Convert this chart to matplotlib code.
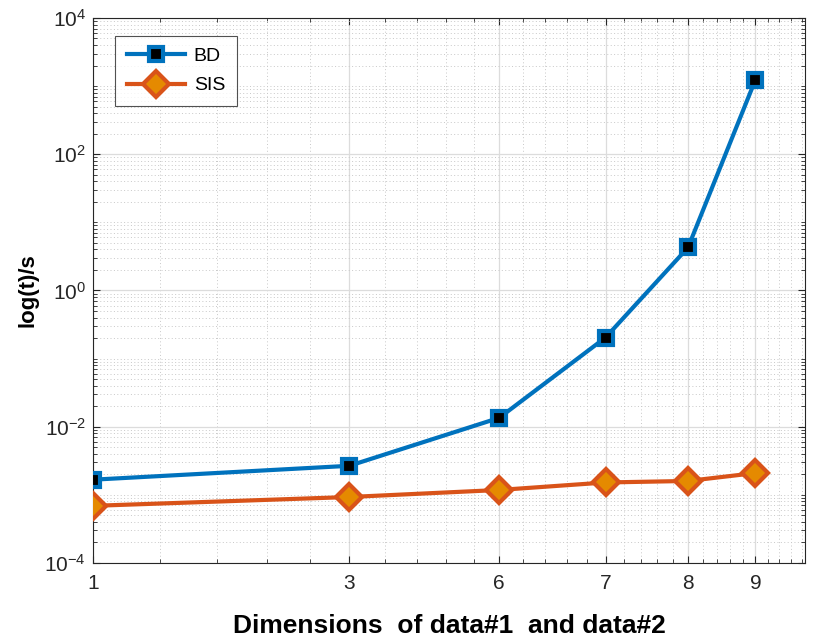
import matplotlib
matplotlib.use("Agg")
import matplotlib.pyplot as plt
from matplotlib.ticker import FixedLocator, NullFormatter, LogLocator
import numpy as np

plt.rcParams['font.family'] = ['Liberation Sans', 'DejaVu Sans']
plt.rcParams['mathtext.fontset'] = 'custom'
plt.rcParams['mathtext.rm'] = 'Liberation Sans'
plt.rcParams['mathtext.it'] = 'Liberation Sans'
plt.rcParams['mathtext.bf'] = 'Liberation Sans:bold'

x_pos = [5, 10, 15, 20, 25, 30]
x_labels = ['1', '3', '6', '7', '8', '9']
bd = [1.67e-3, 2.67e-3, 1.35e-2, 0.204, 4.28, 1242]
sis = [6.9e-4, 9.3e-4, 1.18e-3, 1.52e-3, 1.60e-3, 2.09e-3]

fig = plt.figure(figsize=(8.16, 6.41), dpi=100)
ax = fig.add_axes([0.114, 0.1217, 0.8725, 0.8503])

blue = '#0072BD'
orange = '#D95319'
ax.plot(x_pos, bd, '-s', color=blue, lw=3, ms=10, mec=blue, mfc='black', mew=3, label='BD', zorder=3)
ax.plot(x_pos, sis, '-D', color=orange, lw=3, ms=13, mec=orange, mfc='#E58A00', mew=3, label='SIS', zorder=3)

ax.set_xscale('log')
ax.set_yscale('log')
ax.set_xlim(5, 34.3)
ax.set_ylim(1e-4, 1e4)

ax.xaxis.set_major_locator(FixedLocator(x_pos))
ax.set_xticklabels(x_labels)
ax.xaxis.set_minor_locator(FixedLocator([v for v in range(5, 35) if v not in x_pos]))
ax.xaxis.set_minor_formatter(NullFormatter())

ax.yaxis.set_major_locator(FixedLocator([1e-4, 1e-2, 1e0, 1e2, 1e4]))
ax.set_yticklabels([r'$\mathregular{10^{-4}}$', r'$\mathregular{10^{-2}}$', r'$\mathregular{10^{0}}$',
                    r'$\mathregular{10^{2}}$', r'$\mathregular{10^{4}}$'])
ax.yaxis.set_minor_locator(LogLocator(base=10, subs=np.arange(1, 10), numticks=20))
ax.yaxis.set_minor_formatter(NullFormatter())

ax.tick_params(which='both', direction='in', top=True, right=True, colors='#262626', labelcolor='#262626')
ax.tick_params(which='major', length=5, width=0.8, labelsize=15)
ax.tick_params(which='minor', length=3, width=0.6)
ax.tick_params(axis='x', which='major', pad=8)
ax.tick_params(axis='y', which='major', pad=5)

ax.grid(True, which='major', color='#dcdcdc', lw=0.9, ls='-')
ax.grid(True, which='minor', color='#c8c8c8', lw=0.7, ls=(0, (1, 2.5)))
ax.set_axisbelow(True)
for s in ax.spines.values():
    s.set_color('#262626')
    s.set_linewidth(0.8)

ax.set_xlabel('Dimensions  of data#1  and data#2', fontsize=19, fontweight='bold', labelpad=15)
ax.set_ylabel('log(t)/s', fontsize=16, fontweight='bold', labelpad=4)

leg = ax.legend(loc='upper left', bbox_to_anchor=(0.031, 0.967), fontsize=14, frameon=True,
                fancybox=False, edgecolor='#262626', handlelength=3.0, borderpad=0.6,
                labelspacing=0.6, handletextpad=0.45, borderaxespad=0)
leg.get_frame().set_linewidth(0.8)

fig.savefig('out.png', dpi=100)
